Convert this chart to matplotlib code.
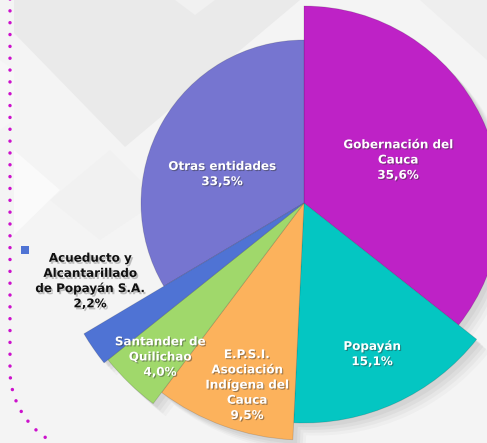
import numpy as np
import matplotlib
matplotlib.use("Agg")
import matplotlib.pyplot as plt
from matplotlib import patches
import matplotlib.patheffects as pe

# data (clockwise from 12 o'clock)
entidades = ["Gobernación del\nCauca", "Popayán", "E.P.S.I.\nAsociación\nIndígena del\nCauca",
             "Santander de\nQuilichao", "Acueducto y\nAlcantarillado\nde Popayán S.A.", "Otras entidades"]
porcentajes = [35.6, 15.1, 9.5, 4.0, 2.2, 33.5]
etiquetas = ["35,6%", "15,1%", "9,5%", "4,0%", "2,2%", "33,5%"]

colores = ["#be22c6", "#04c6c2", "#fcb25c", "#a0d86b", "#4f73d4", "#7675d0"]
radios = [197, 220, 237, 251, 256, 163]
# label centres in image pixels
pos_txt = [(398, 160), (372, 354), (247, 385), (160, 357), (90, 281), (222, 174)]

W, H = 487, 443
fig = plt.figure(figsize=(W / 100, H / 100), dpi=100)
ax = fig.add_axes([0, 0, 1, 1])
fig.patch.set_facecolor("#f4f4f4")

def Y(y):
    return H - y

# background shapes
bg = [
    ([(14, 0), (300, 0), (125, 147), (14, 33)], "#eaeaea"),
    ([(175, 0), (215, 0), (195, 15)], "#f1f1f1"),
    ([(0, 60), (14, 70), (14, 120), (0, 130)], "#f7f7f7"),
    ([(50, 200), (110, 150), (160, 200), (100, 240)], "#f1f1f1"),
    ([(14, 150), (60, 190), (14, 235)], "#fafafa"),
    ([(420, 0), (487, 0), (487, 60)], "#eeeeee"),
]
for pts, c in bg:
    ax.add_patch(patches.Polygon([(x, Y(y)) for x, y in pts], closed=True,
                                 facecolor=c, edgecolor="none", zorder=0))

# dotted border at left
t = np.linspace(np.pi, np.pi + np.radians(62), 40)
bx = np.concatenate([[10, 10], 92 + 82 * np.cos(t)])
by = np.concatenate([[Y(-5), Y(370)], Y(370 - 82 * np.sin(t))])
ax.plot(bx, by, color="#cc11cc", lw=2.5, ls=(0, (0.01, 3.4)),
        dash_capstyle="round", zorder=1)

wedges, _ = ax.pie(porcentajes, colors=colores, startangle=90, counterclock=False,
                   center=(304, Y(203)), radius=200, frame=True,
                   wedgeprops=dict(edgecolor=(0, 0, 0, 0.15), linewidth=0.6))
for w, r in zip(wedges, radios):
    w.set_radius(r)
    w.set_zorder(3)
    for k, a in [(3, 0.07), (5, 0.06), (7, 0.05), (9, 0.04)]:
        s = patches.Shadow(w, k, -k)
        s.set_facecolor("#606060")
        s.set_edgecolor("none")
        s.set_alpha(a)
        s.set_zorder(2)
        ax.add_patch(s)
wedges[4].set_zorder(3.5)

ax.set_xlim(0, W)
ax.set_ylim(0, H)
ax.set_aspect("auto")
ax.axis("off")

sombra_blanca = [pe.withSimplePatchShadow(offset=(0.8, -0.8), shadow_rgbFace="#333333", alpha=0.45)]
sombra_negra = [pe.withSimplePatchShadow(offset=(1.2, -1.5), shadow_rgbFace="#888888", alpha=0.5)]
for i, (nom, et) in enumerate(zip(entidades, etiquetas)):
    x, y = pos_txt[i]
    negro = (i == 4)
    ax.text(x, Y(y), nom + "\n" + et, ha="center", va="center", fontsize=8.6,
            fontweight="bold", family="DejaVu Sans", linespacing=1.22,
            color="#111111" if negro else "white",
            path_effects=sombra_negra if negro else sombra_blanca, zorder=6)

# legend marker for the small slice
ax.add_patch(patches.Rectangle((20.5, Y(254)), 8, 8, facecolor=colores[4],
                               edgecolor="none", zorder=5))

fig.savefig("out.png", dpi=100, facecolor=fig.get_facecolor())
